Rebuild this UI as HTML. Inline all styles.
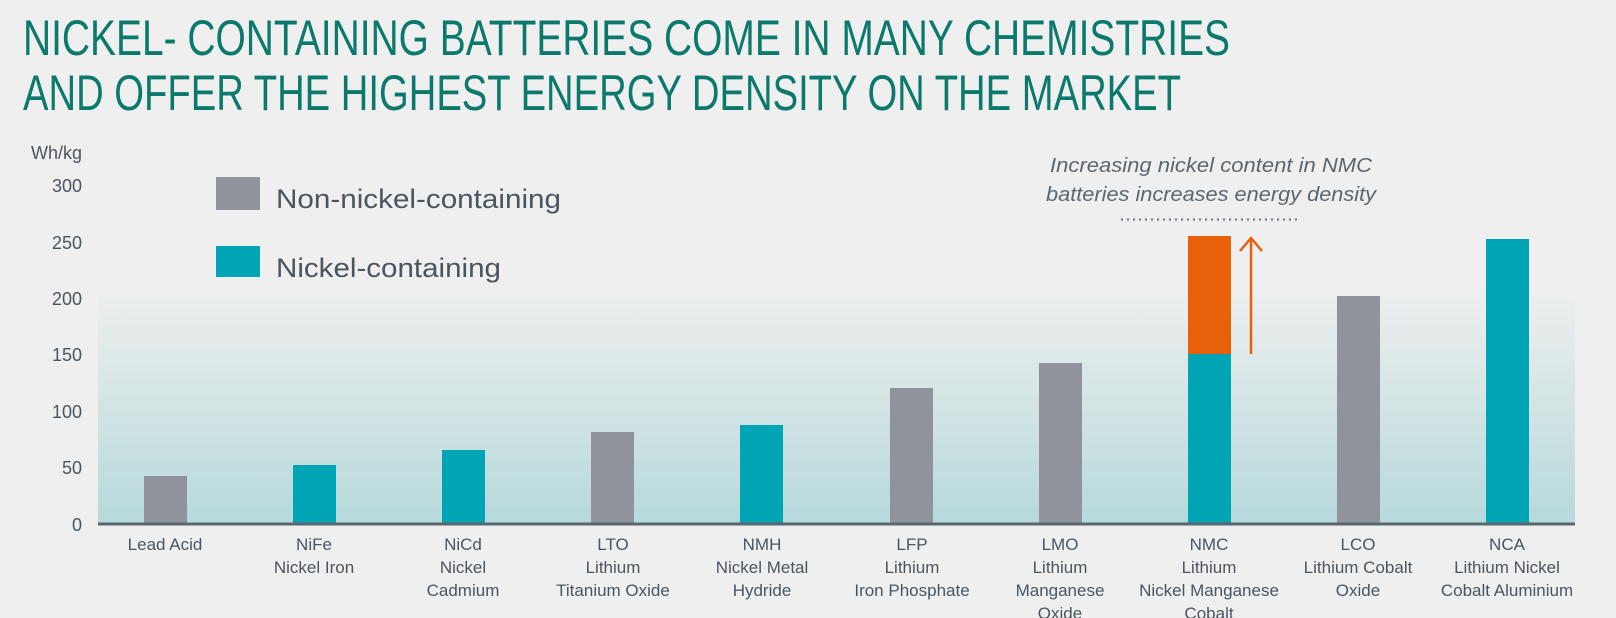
<!DOCTYPE html>
<html><head><meta charset="utf-8"><style>
html,body{margin:0;padding:0;background:#efefef;}
svg{display:block;}
</style></head><body>
<svg width="1616" height="618" viewBox="0 0 1616 618" xmlns="http://www.w3.org/2000/svg" font-family="'Liberation Sans', sans-serif">
<defs>
<linearGradient id="bg" x1="0" y1="0" x2="0" y2="1">
<stop offset="0" stop-color="#efefef"/>
<stop offset="1" stop-color="#b6d9db"/>
</linearGradient>
</defs>
<rect width="1616" height="618" fill="#efefef"/>
<g fill="#0b7a6c" font-size="50">
<text x="23" y="55" textLength="1207" lengthAdjust="spacingAndGlyphs">NICKEL- CONTAINING BATTERIES COME IN MANY CHEMISTRIES</text>
<text x="23" y="110" textLength="1158" lengthAdjust="spacingAndGlyphs">AND OFFER THE HIGHEST ENERGY DENSITY ON THE MARKET</text>
</g>
<rect x="98" y="290" width="1477" height="234" fill="url(#bg)"/>
<g fill="#4a5560" font-size="18" text-anchor="end">
<text x="82" y="159">Wh/kg</text>
<text x="82" y="192">300</text>
<text x="82" y="249">250</text>
<text x="82" y="305">200</text>
<text x="82" y="361">150</text>
<text x="82" y="418">100</text>
<text x="82" y="474">50</text>
<text x="82" y="531">0</text>
</g>
<rect x="216" y="177" width="44" height="33" fill="#90939b"/>
<rect x="216" y="246" width="44" height="31" fill="#00a5b5"/>
<g fill="#4a5560" font-size="27">
<text x="276" y="208" textLength="285" lengthAdjust="spacingAndGlyphs">Non-nickel-containing</text>
<text x="276" y="277" textLength="225" lengthAdjust="spacingAndGlyphs">Nickel-containing</text>
</g>
<g>
<rect x="144" y="476" width="43" height="48" fill="#90939b"/>
<rect x="293" y="465" width="43" height="59" fill="#00a5b5"/>
<rect x="442" y="450" width="43" height="74" fill="#00a5b5"/>
<rect x="591" y="432" width="43" height="92" fill="#90939b"/>
<rect x="740" y="425" width="43" height="99" fill="#00a5b5"/>
<rect x="890" y="388" width="43" height="136" fill="#90939b"/>
<rect x="1039" y="363" width="43" height="161" fill="#90939b"/>
<rect x="1188" y="354" width="43" height="170" fill="#00a5b5"/>
<rect x="1188" y="236" width="43" height="118" fill="#e8600a"/>
<rect x="1337" y="296" width="43" height="228" fill="#90939b"/>
<rect x="1486" y="239" width="43" height="285" fill="#00a5b5"/>
</g>
<line x1="98" y1="524" x2="1575" y2="524" stroke="#5a6770" stroke-width="3"/>
<g stroke="#e8600a" stroke-width="2.5" fill="none">
<line x1="1251" y1="354" x2="1251" y2="238"/>
<polyline points="1240,251 1251,238 1262,251"/>
</g>
<line x1="1121" y1="219.5" x2="1300" y2="219.5" stroke="#6a737b" stroke-width="2" stroke-dasharray="2,4"/>
<g fill="#5c6670" font-size="20" font-style="italic" text-anchor="middle">
<text x="1211" y="172" textLength="322" lengthAdjust="spacingAndGlyphs">Increasing nickel content in NMC</text>
<text x="1211" y="201" textLength="330" lengthAdjust="spacingAndGlyphs">batteries increases energy density</text>
</g>
<g fill="#4a5560" font-size="17" text-anchor="middle">
<text x="165" y="550">Lead Acid</text>
<text x="314" y="550">NiFe</text><text x="314" y="573">Nickel Iron</text>
<text x="463" y="550">NiCd</text><text x="463" y="573">Nickel</text><text x="463" y="596">Cadmium</text>
<text x="613" y="550">LTO</text><text x="613" y="573">Lithium</text><text x="613" y="596">Titanium Oxide</text>
<text x="762" y="550">NMH</text><text x="762" y="573">Nickel Metal</text><text x="762" y="596">Hydride</text>
<text x="912" y="550">LFP</text><text x="912" y="573">Lithium</text><text x="912" y="596">Iron Phosphate</text>
<text x="1060" y="550">LMO</text><text x="1060" y="573">Lithium</text><text x="1060" y="596">Manganese</text><text x="1060" y="619">Oxide</text>
<text x="1209" y="550">NMC</text><text x="1209" y="573">Lithium</text><text x="1209" y="596">Nickel Manganese</text><text x="1209" y="619">Cobalt</text>
<text x="1358" y="550">LCO</text><text x="1358" y="573">Lithium Cobalt</text><text x="1358" y="596">Oxide</text>
<text x="1507" y="550">NCA</text><text x="1507" y="573">Lithium Nickel</text><text x="1507" y="596">Cobalt Aluminium</text>
</g>
</svg>
</body></html>
